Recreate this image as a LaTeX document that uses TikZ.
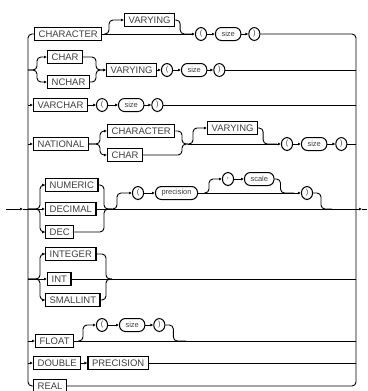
\documentclass[tikz,border=0pt]{standalone}
\usepackage{fontspec}
\setmainfont{Liberation Sans}
\usetikzlibrary{positioning,arrows.meta}

\begin{document}
\begin{tikzpicture}[
  x=1pt, y=-1pt,
  every node/.style={text=black!75},
  kw/.style={draw, line width=1.3pt, anchor=west, inner xsep=4pt, inner ysep=0pt,
    minimum height=13pt, font=\fontsize{9.5}{10}\selectfont},
  sym/.style={draw, line width=1pt, rounded corners=6pt, inner xsep=6pt, inner ysep=0pt,
    minimum height=13pt, font=\fontsize{7.5}{8}\selectfont},
  par/.style={sym, inner xsep=2pt, minimum width=11pt},
  line/.style={line width=0.9pt},
  tip/.style={-{Latex[length=3pt,width=3pt]}},
  rc/.style={rounded corners=4pt}
  ]

\path[fill=white] (0,0) rectangle (367,391);
\useasboundingbox (0,0) rectangle (367,391);

% Rails
\coordinate (rl) at (28,209);
\coordinate (rr) at (356,209);
\coordinate (start) at (6,209);
\coordinate (in1) at (23,209);
\coordinate (out1) at (362,209);
\coordinate (stop) at (367,209);

% Row 1
\node[kw] (character) at (34,34) {CHARACTER};
\node[kw] (varying1) at (124,20) {VARYING};
\node[par] (lp1) at (201,34) {(};
\node[sym, right=8pt of lp1] (size1) {size};
\node[par, right=7pt of size1] (rp1) {)};
\coordinate (j1) at (104,34);
\coordinate (j1b) at (192,34);

% Row 2
\coordinate (b2l) at (37,70);
\node[kw] (char1) at (47,57) {CHAR};
\node[kw] (nchar) at (47,82) {NCHAR};
\coordinate (b2) at (96,70);
\node[kw] (varying2) at (106,70) {VARYING};
\node[par] (lp2) at (167,70) {(};
\node[sym, right=8pt of lp2] (size2) {size};
\node[par, right=6pt of size2] (rp2) {)};

% Row 3
\node[kw] (varchar) at (33,105) {VARCHAR};
\node[par, right=8pt of varchar] (lp3) {(};
\node[sym, right=10pt of lp3] (size3) {size};
\node[par, right=7pt of size3] (rp3) {)};

% Row 4
\node[kw] (national) at (33,144) {NATIONAL};
\coordinate (b4l) at (100,144);
\node[kw] (character2) at (107,131) {CHARACTER};
\node[kw] (char2) at (107,155) {CHAR};
\coordinate (b4) at (182,144);
\coordinate (j4) at (188,144);
\node[kw] (varying3) at (207,128) {VARYING};
\coordinate (j4b) at (277,144);
\node[par] (lp4) at (287,144) {(};
\node[sym, right=8pt of lp4] (size4) {size};
\node[par, right=8pt of size4] (rp4) {)};

% Row 5
\coordinate (b5l) at (40,209);
\node[kw] (numeric) at (45,185) {NUMERIC};
\node[kw] (decimal) at (45,209) {DECIMAL};
\node[kw] (dec) at (45,232) {DEC};
\coordinate (b5) at (104,209);
\coordinate (j5) at (112,209);
\node[par] (lp5) at (138,193) {(};
\node[sym, right=11pt of lp5] (precision) {precision};
\coordinate (j5b) at (204,193);
\node[par] (comma) at (228,179) {,};
\node[sym, right=10pt of comma] (scale) {scale};
\coordinate (j5c) at (294,193);
\node[par] (rp5) at (307,193) {)};
\coordinate (j5d) at (332,209);

% Row 6
\coordinate (b6l) at (40,279);
\node[kw] (integer) at (45,254) {INTEGER};
\node[kw] (int) at (47,279) {INT};
\node[kw] (smallint) at (45,300) {SMALLINT};
\coordinate (b6) at (106,279);
\coordinate (j6) at (112,279);

% Row 7
\node[kw] (float) at (35,341) {FLOAT};
\coordinate (j7) at (78,341);
\node[par] (lp7) at (102,325) {(};
\node[sym, right=11pt of lp7] (size7) {size};
\node[par, right=8pt of size7] (rp7) {)};
\coordinate (j7b) at (186,341);

% Row 8
\node[kw] (double) at (33,363) {DOUBLE};
\node[kw, right=6pt of double] (precision2) {PRECISION};

% Row 9
\node[kw] (real) at (33,386) {REAL};

% Entry, exit and rails
\draw[line,tip] (start) -- (in1);
\draw[line] (in1) -- (rl);
\draw[line,tip] (rr) -- (out1);
\draw[line] (out1) -- (stop);
\draw[line,rc] (character.west) -| (rl) |- (real.west);
\draw[line,rc] (rp1.east) -| (rr) |- (real.east);

% Row 1 connectors
\draw[line,tip] (character.east) -- (lp1);
\draw[line,rc,tip] (j1) -- ++(5,0) |- (varying1.west);
\draw[line,rc] (varying1.east) -- ++(5,0) |- (j1b);
\draw[line,tip] (lp1) -- (size1);
\draw[line,tip] (size1) -- (rp1);

% Row 2 connectors
\draw[line,rc,tip] (rl |- b2l) -- (b2l) |- (char1.west);
\draw[line,rc,tip] (rl |- b2l) -- (b2l) |- (nchar.west);
\draw[line,rc,tip] (char1.east) -| (b2) -- (varying2.west);
\draw[line,rc,tip] (nchar.east) -| (b2) -- (varying2.west);
\draw[line,tip] (varying2) -- (lp2);
\draw[line,tip] (lp2) -- (size2);
\draw[line,tip] (size2) -- (rp2);
\draw[line] (rp2.east) -- (rp2.east -| rr);

% Row 3 connectors
\draw[line,tip] (rl |- varchar.west) -- (varchar.west);
\draw[line,tip] (varchar) -- (lp3);
\draw[line,tip] (lp3) -- (size3);
\draw[line,tip] (size3) -- (rp3);
\draw[line] (rp3.east) -- (rp3.east -| rr);

% Row 4 connectors
\draw[line,tip] (rl |- national.west) -- (national.west);
\draw[line,rc,tip] (national.east) -- (b4l) |- (character2.west);
\draw[line,rc,tip] (national.east) -- (b4l) |- (char2.west);
\draw[line,rc] (character2.east) -| (b4) -- (j4);
\draw[line,rc] (char2.east) -| (b4) -- (j4);
\draw[line,tip] (j4) -- (lp4);
\draw[line,rc,tip] (j4) -- ++(5,0) |- (varying3.west);
\draw[line,rc] (varying3.east) -- ++(5,0) |- (j4b);
\draw[line,tip] (lp4) -- (size4);
\draw[line,tip] (size4) -- (rp4);
\draw[line] (rp4.east) -- (rp4.east -| rr);

% Row 5 connectors
\draw[line,tip] (in1) -- (decimal.west);
\draw[line,rc,tip] (rl) -- (b5l) |- (numeric.west);
\draw[line,rc,tip] (rl) -- (b5l) |- (dec.west);
\draw[line,rc] (numeric.east) -| (b5) -- (j5);
\draw[line,rc] (dec.east) -| (b5) -- (j5);
\draw[line] (decimal.east) -- (rr);
\draw[line,rc,tip] (j5) -- ++(5,0) |- (lp5.west);
\draw[line,tip] (lp5) -- (precision);
\draw[line,tip] (precision) -- (rp5);
\draw[line,rc,tip] (j5b) -- ++(5,0) |- (comma.west);
\draw[line,tip] (comma) -- (scale);
\draw[line,rc] (scale.east) -- ++(6,0) |- (j5c);
\draw[line,rc] (rp5.east) -- ++(8,0) |- (j5d);

% Row 6 connectors
\draw[line,rc,tip] (rl |- b6l) -- (b6l) |- (integer.west);
\draw[line,rc,tip] (rl |- b6l) -- (b6l) |- (smallint.west);
\draw[line,tip] (rl |- int.west) -- (int.west);
\draw[line,rc] (integer.east) -| (b6) -- (j6);
\draw[line,rc] (smallint.east) -| (b6) -- (j6);
\draw[line] (int.east) -- (int.east -| rr);

% Row 7 connectors
\draw[line,tip] (rl |- float.west) -- (float.west);
\draw[line] (float.east) -- (float.east -| rr);
\draw[line,rc,tip] (j7) -- ++(5,0) |- (lp7.west);
\draw[line,tip] (lp7) -- (size7);
\draw[line,tip] (size7) -- (rp7);
\draw[line,rc] (rp7.east) -- ++(8,0) |- (j7b);

% Row 8 connectors
\draw[line,tip] (rl |- double.west) -- (double.west);
\draw[line,tip] (double) -- (precision2);
\draw[line] (precision2.east) -- (precision2.east -| rr);

\end{tikzpicture}
\end{document}
